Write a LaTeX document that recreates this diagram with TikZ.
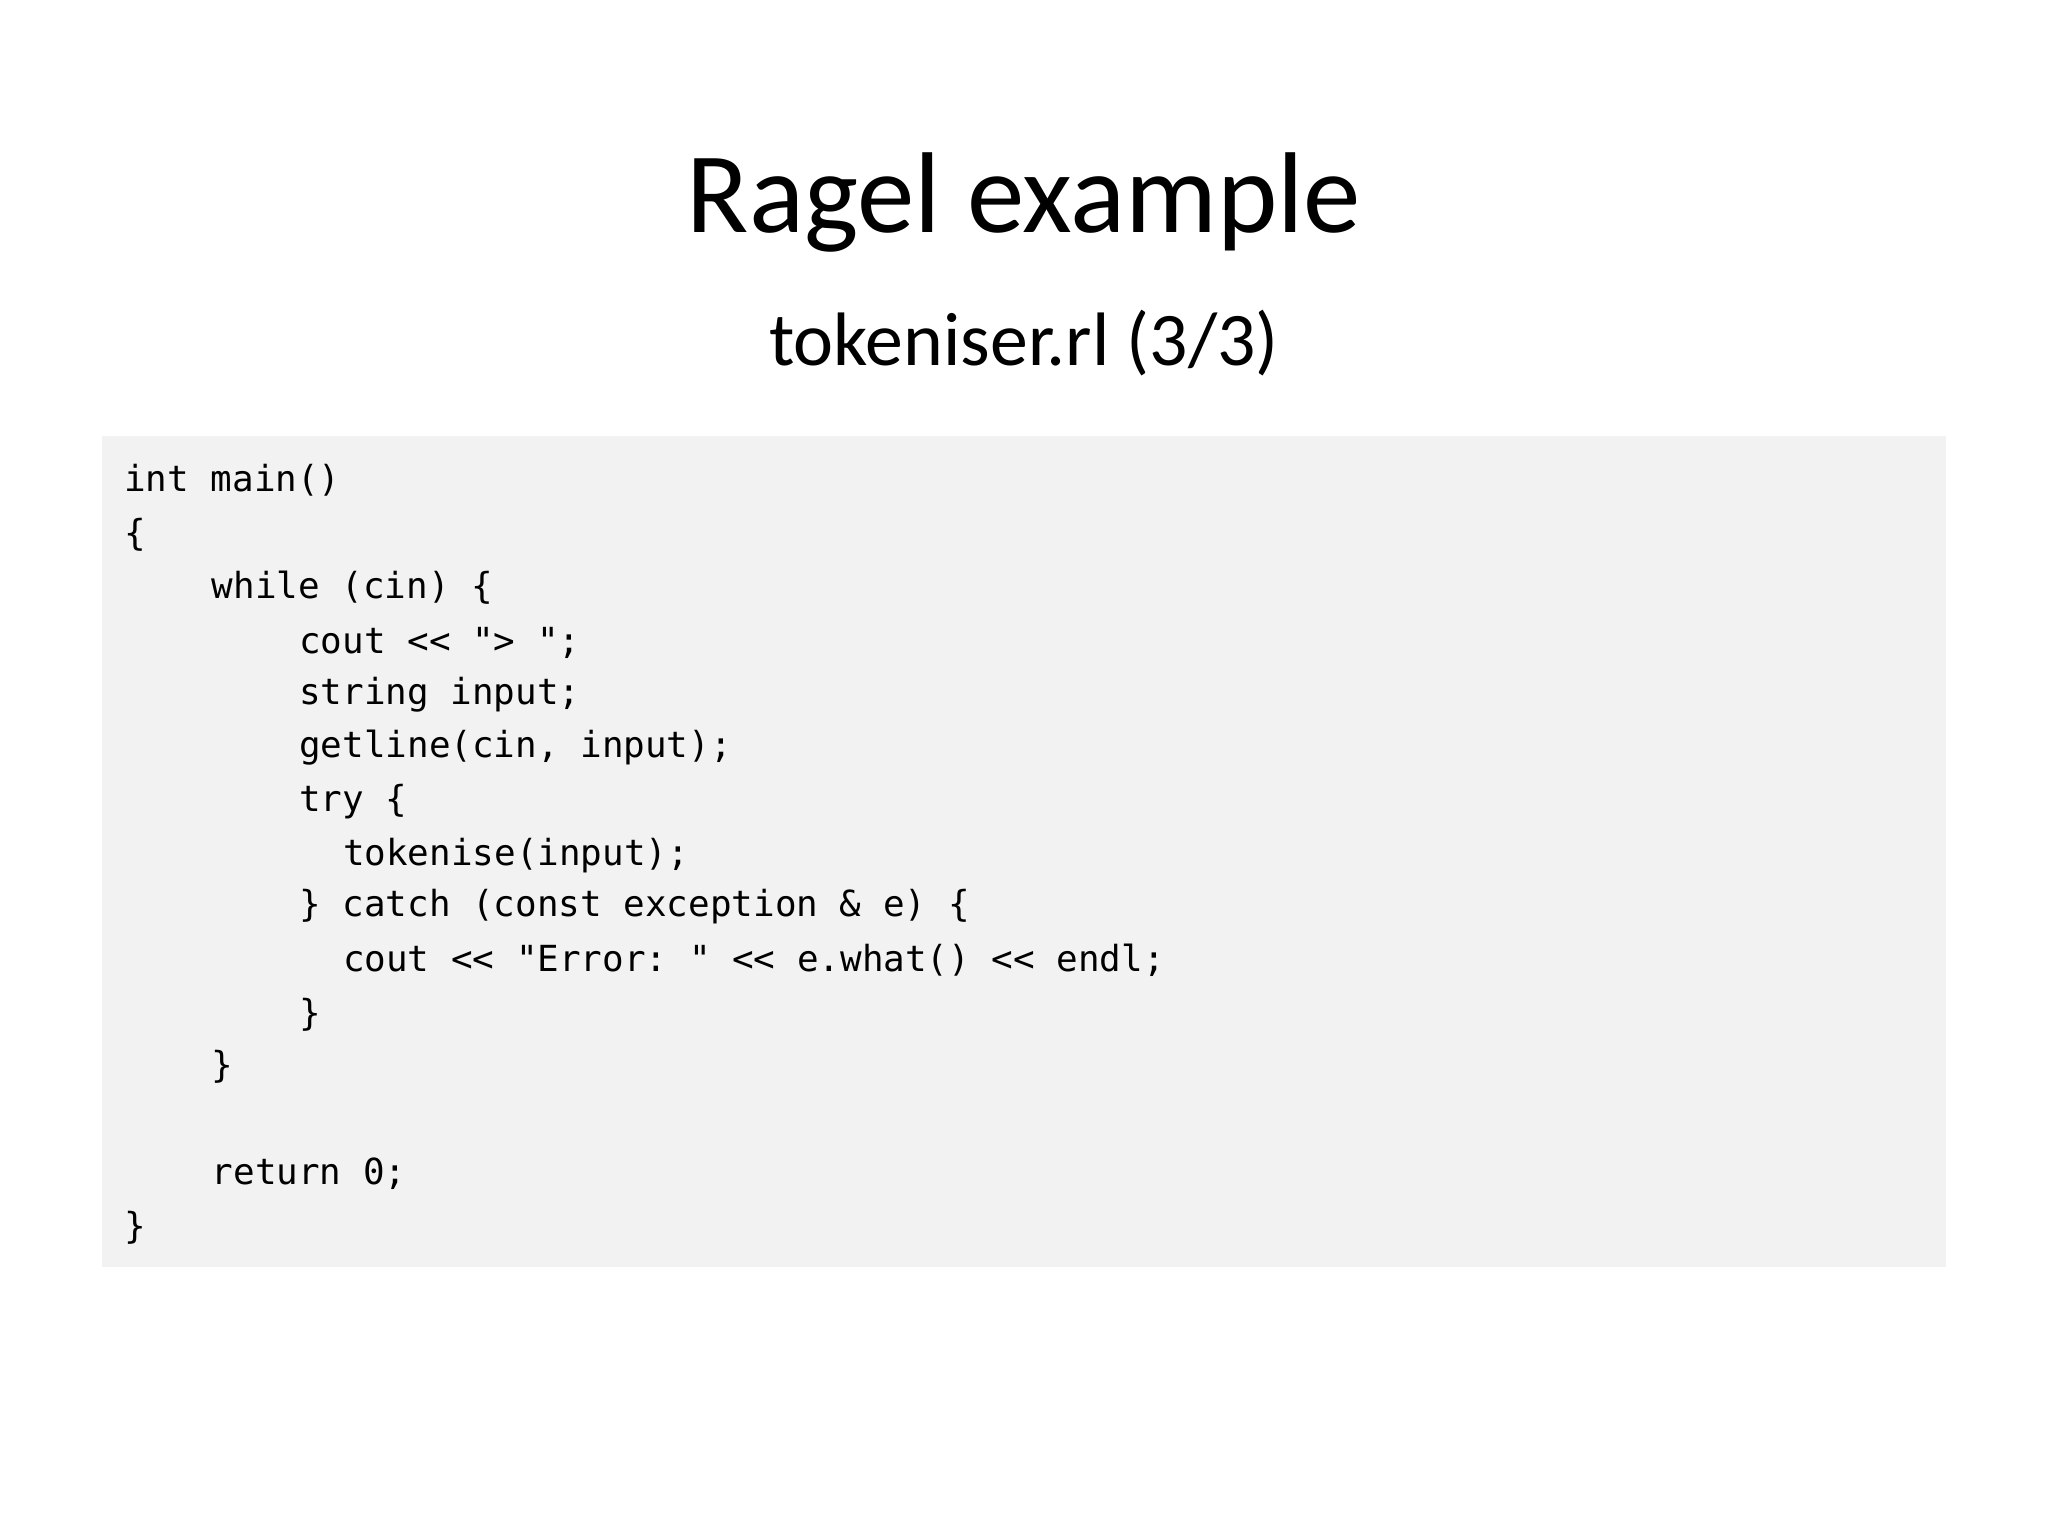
\documentclass[tikz,border=0pt]{standalone}
\usepackage{fontspec}
\setmainfont{Carlito}
\setmonofont{DejaVu Sans Mono}
\begin{document}
\begin{tikzpicture}[x=1pt,y=-1pt,
  codeline/.style={anchor=base west,inner sep=0pt,font=\ttfamily\fontsize{27.5}{30}\selectfont}]
\useasboundingbox (0,0) rectangle (1568,1176);
\fill[white] (0,0) rectangle (1568,1176);
\node[font=\fontsize{88}{90}\selectfont,anchor=base] (title) at (784,178) {Ragel example};
\node[font=\fontsize{58}{60}\selectfont,anchor=base] (sub) at (784,280) {tokeniser.rl (3/3)};
\fill[fill={rgb,255:red,242;green,242;blue,242}] (78,334) rectangle (1490,970);
\def\cw{16.75}
\foreach \i/\y/\t [count=\n] in {
 0/376/{int main()},
 0/418/{\{},
 4/458/{while (cin) \{},
 8/500/{cout << "> ";},
 8/539/{string input;},
 8/580/{getline(cin, input);},
 8/621/{try \{},
 10/663/{tokenise(input);},
 8/702/{\} catch (const exception \& e) \{},
 10/744/{cout << "Error: " << e.what() << endl;},
 8/785/{\}},
 4/825/{\}},
 4/907/{return 0;},
 0/948/{\}}}
 \node[codeline] (line\n) at (95+\i*\cw,\y) {\t};
\end{tikzpicture}
\end{document}
